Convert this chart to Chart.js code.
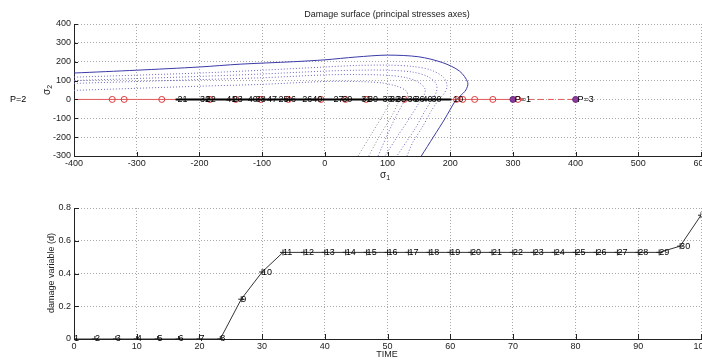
<!DOCTYPE html>
<html>
<head>
<meta charset="utf-8">
<script src="https://cdn.jsdelivr.net/npm/chart.js@4.4.1/dist/chart.umd.min.js"></script>
<style>
    html, body { margin: 0; padding: 0; background: #fff; overflow: hidden; }
    #wrap { position: relative; width: 702px; height: 362px; }
    #surface { position: absolute; left: 0; top: 0; }
    #damage { position: absolute; left: 0; top: 185px; }
</style>
</head>
<body>
<div id="wrap">
    <canvas id="surface" width="702" height="185"></canvas>
    <canvas id="damage" width="702" height="177"></canvas>
</div>
<script>
const FONT = '"Liberation Sans", Arial, Helvetica, sans-serif';
const TEXT = '#222';
const GRID = '#a8a8a8';

// ---- damage surface in the principal stress plane ----
const sigma1Ticks = [-400, -300, -200, -100, 0, 100, 200, 300, 400, 500, 600];
const sigma2Ticks = [-300, -200, -100, 0, 100, 200, 300, 400];

// current damage surface
const envS1 = [-400, -300, -200, -135, -50, 0, 50, 100, 150, 188, 215, 228, 225, 215, 207, 192, 173, 154];
const envS2 = [140, 155, 172, 187, 200, 210, 225, 235, 226, 195, 150, 90, 50, 15, -14, -100, -200, -300];

// previous surfaces (dotted)
const prev1S1 = [-400, -200, -100, 0, 50, 100, 140, 170, 190, 195, 190, 182, 170, 155, 140, 131];
const prev1S2 = [118, 140, 155, 172, 180, 182, 175, 155, 115, 70, 30, 0, -60, -150, -230, -300];
const prev2S1 = [-400, -200, -100, 0, 50, 100, 140, 165, 178, 178, 172, 160, 145, 125, 115];
const prev2S2 = [100, 122, 135, 150, 155, 155, 145, 120, 80, 40, 5, -60, -150, -250, -300];
const prev3S1 = [-400, -200, -100, 0, 50, 100, 130, 150, 160, 158, 150, 135, 115, 96];
const prev3S2 = [85, 105, 115, 130, 132, 128, 115, 90, 55, 20, -20, -100, -200, -300];
const prev4S1 = [-400, -200, -100, 0, 50, 90, 115, 130, 132, 125, 112, 98, 85];
const prev4S2 = [48, 70, 80, 95, 95, 88, 70, 45, 20, -20, -100, -200, -300];
const grayAS1 = [53, 75, 95, 105];
const grayAS2 = [-300, -180, -70, -10];
const grayBS1 = [70, 88, 108, 118];
const grayBS2 = [-300, -190, -80, -10];

// loading path along sigma2 = 0
const pathS1 = [-400, 308];
const pathDashS1 = [308, 400];
const pathPointsS1 = [-339, -320, -260, -183, -142, -102, -58, -6, 33, 66, 127, 210, 220, 239, 268, 308];
const stepPathS1 = [-238, 202];
const poleS1 = [300, 400];

// step numbers written along the path
const stepLabelS1 = [-235, -199, -190, -157, -147, -123, -110, -92, -74, -62, -36, -20, 14, 28, 58, 69, 92, 104, 114, 132, 143, 156, 170, 205];
const stepLabels = ['21', '32', '22', '41', '23', '40', '38', '47', '25', '46', '26', '40', '27', '30', '31', '30', '33', '32', '35', '36', '36', '40', '30', '10'];
const poleLabelS1 = [-502, 303, 403];
const poleLabels = ['P=2', 'P=1', 'P=3'];

// ---- damage evolution ----
const timeTicks = [0, 10, 20, 30, 40, 50, 60, 70, 80, 90, 100];
const damageTicks = [0, 0.2, 0.4, 0.6, 0.8];
const timeSteps = [0, 3.33, 6.67, 10, 13.33, 16.67, 20, 23.33, 26.67, 30, 33.33, 36.67, 40, 43.33, 46.67, 50,
    53.33, 56.67, 60, 63.33, 66.67, 70, 73.33, 76.67, 80, 83.33, 86.67, 90, 93.33, 96.67, 100];
const damage = [0, 0, 0, 0, 0, 0, 0, 0, 0.243, 0.409, 0.529, 0.529, 0.529, 0.529, 0.529, 0.529,
    0.529, 0.529, 0.529, 0.529, 0.529, 0.529, 0.529, 0.529, 0.529, 0.529, 0.529, 0.529, 0.529, 0.567, 0.756];

const pts = (xs, ys) => xs.map((x, i) => ({ x: x, y: ys[i] }));
const flat = xs => xs.map(x => ({ x: x, y: 0 }));

function fixedTicks(list) {
    return function (scale) {
        scale.ticks = list.map(v => ({ value: v }));
    };
}

// MATLAB style inward tick marks
function drawInwardTicks(chart, len) {
    const { ctx, chartArea: a, scales: { x, y } } = chart;
    ctx.save();
    ctx.strokeStyle = TEXT;
    ctx.lineWidth = 1;
    ctx.beginPath();
    x.ticks.forEach(t => {
        const px = Math.round(x.getPixelForValue(t.value)) + 0.5;
        ctx.moveTo(px, a.bottom);
        ctx.lineTo(px, a.bottom - len);
    });
    y.ticks.forEach(t => {
        const py = Math.round(y.getPixelForValue(t.value)) + 0.5;
        ctx.moveTo(a.left, py);
        ctx.lineTo(a.left + len, py);
    });
    ctx.stroke();
    ctx.restore();
}

function subText(ctx, x, y, base, sub, rotate) {
    ctx.save();
    ctx.translate(x, y);
    if (rotate) ctx.rotate(-Math.PI / 2);
    ctx.fillStyle = TEXT;
    ctx.textBaseline = 'middle';
    ctx.textAlign = 'left';
    ctx.font = '10px ' + FONT;
    const w = ctx.measureText(base).width;
    ctx.font = '7px ' + FONT;
    const ws = ctx.measureText(sub).width;
    const x0 = -(w + ws) / 2;
    ctx.font = '10px ' + FONT;
    ctx.fillText(base, x0, 0);
    ctx.font = '7px ' + FONT;
    ctx.fillText(sub, x0 + w, 3);
    ctx.restore();
}

function axisOptions(ticksList, min, max, vertical) {
    return {
        type: 'linear',
        min: min,
        max: max,
        afterBuildTicks: fixedTicks(ticksList),
        afterFit: vertical
            ? function (s) { s.width = 74; s.paddingTop = 0; s.paddingBottom = 0; }
            : function (s) { s.height = 16; s.paddingLeft = 0; s.paddingRight = 0; },
        grid: { color: GRID, lineWidth: 1, drawTicks: false },
        border: { display: true, color: TEXT, width: 1, dash: [1, 2] },
        ticks: {
            color: TEXT,
            font: { family: FONT, size: 9 },
            padding: vertical ? 3 : 2,
            maxRotation: 0,
            autoSkip: false
        }
    };
}

const surfacePlugin = {
    id: 'surfaceText',
    afterDatasetsDraw(chart) {
        const { ctx, scales: { x, y } } = chart;
        drawInwardTicks(chart, 4);
        ctx.save();
        ctx.fillStyle = '#000';
        ctx.font = '9px ' + FONT;
        ctx.textAlign = 'left';
        ctx.textBaseline = 'middle';
        const py = y.getPixelForValue(0);
        stepLabelS1.forEach((v, i) => ctx.fillText(stepLabels[i], x.getPixelForValue(v), py));
        poleLabelS1.forEach((v, i) => ctx.fillText(poleLabels[i], x.getPixelForValue(v), py));
        ctx.fillStyle = TEXT;
        ctx.textAlign = 'center';
        ctx.fillText('Damage surface (principal stresses axes)', 387, 15);
        ctx.restore();
        subText(ctx, 385, 175, '\u03c3', '1', false);
        subText(ctx, 47, 90, '\u03c3', '2', true);
    }
};

new Chart(document.getElementById('surface'), {
    type: 'scatter',
    data: {
        datasets: [
            { data: flat(poleS1), showLine: false, pointRadius: 3, pointBackgroundColor: '#8a3c9a', pointBorderColor: '#6a2a80', order: 0 },
            { data: flat(stepPathS1), showLine: true, borderColor: '#000', borderWidth: 2, pointRadius: 0, order: 1 },
            { data: flat(pathPointsS1), showLine: false, pointRadius: 3, pointBorderWidth: 1, pointBorderColor: '#e03a3a', pointBackgroundColor: 'rgba(0,0,0,0)', order: 2 },
            { data: flat(pathS1), showLine: true, borderColor: '#e35a5a', borderWidth: 1, pointRadius: 0, order: 3 },
            { data: flat(pathDashS1), showLine: true, borderColor: '#e35a5a', borderWidth: 1, borderDash: [6, 4], pointRadius: 0, order: 3 },
            { data: pts(envS1, envS2), showLine: true, borderColor: '#3a3aa8', borderWidth: 1, tension: 0.3, pointRadius: 0, order: 4 },
            { data: pts(prev1S1, prev1S2), showLine: true, borderColor: '#6868c4', borderWidth: 1, borderDash: [1, 2], tension: 0.3, pointRadius: 0, order: 5 },
            { data: pts(prev2S1, prev2S2), showLine: true, borderColor: '#6868c4', borderWidth: 1, borderDash: [1, 2], tension: 0.3, pointRadius: 0, order: 5 },
            { data: pts(prev3S1, prev3S2), showLine: true, borderColor: '#6868c4', borderWidth: 1, borderDash: [1, 2], tension: 0.3, pointRadius: 0, order: 5 },
            { data: pts(prev4S1, prev4S2), showLine: true, borderColor: '#6868c4', borderWidth: 1, borderDash: [1, 2], tension: 0.3, pointRadius: 0, order: 5 },
            { data: pts(grayAS1, grayAS2), showLine: true, borderColor: '#8c8c8c', borderWidth: 1, borderDash: [1, 2], tension: 0.3, pointRadius: 0, order: 6 },
            { data: pts(grayBS1, grayBS2), showLine: true, borderColor: '#8c8c8c', borderWidth: 1, borderDash: [1, 2], tension: 0.3, pointRadius: 0, order: 6 }
        ]
    },
    options: {
        responsive: false,
        animation: false,
        layout: { autoPadding: false, padding: { left: 0, right: 1, top: 24, bottom: 13 } },
        plugins: { legend: { display: false }, tooltip: { enabled: false } },
        scales: {
            x: axisOptions(sigma1Ticks, -400, 600, false),
            y: axisOptions(sigma2Ticks, -300, 400, true)
        }
    },
    plugins: [surfacePlugin]
});

const damagePlugin = {
    id: 'damageText',
    afterDatasetsDraw(chart) {
        const { ctx, scales: { x, y } } = chart;
        drawInwardTicks(chart, 5);
        ctx.save();
        ctx.fillStyle = '#000';
        ctx.font = '9px ' + FONT;
        ctx.textAlign = 'left';
        ctx.textBaseline = 'middle';
        timeSteps.forEach((t, i) => {
            ctx.fillText(String(i + 1), x.getPixelForValue(t), y.getPixelForValue(damage[i]));
        });
        ctx.fillStyle = TEXT;
        ctx.textAlign = 'center';
        ctx.fillText('TIME', 387, 170);
        ctx.translate(52, 88);
        ctx.rotate(-Math.PI / 2);
        ctx.fillText('damage variable (d)', 0, 0);
        ctx.restore();
    }
};

new Chart(document.getElementById('damage'), {
    type: 'scatter',
    data: {
        datasets: [{
            data: pts(timeSteps, damage),
            showLine: true,
            borderColor: '#333',
            borderWidth: 1,
            pointStyle: 'cross',
            pointRadius: 3,
            pointBorderColor: '#222',
            pointBorderWidth: 1
        }]
    },
    options: {
        responsive: false,
        animation: false,
        layout: { autoPadding: false, padding: { left: 0, right: 1, top: 23, bottom: 7 } },
        plugins: { legend: { display: false }, tooltip: { enabled: false } },
        scales: {
            x: axisOptions(timeTicks, 0, 100, false),
            y: axisOptions(damageTicks, 0, 0.8, true)
        }
    },
    plugins: [damagePlugin]
});
</script>
</body>
</html>
